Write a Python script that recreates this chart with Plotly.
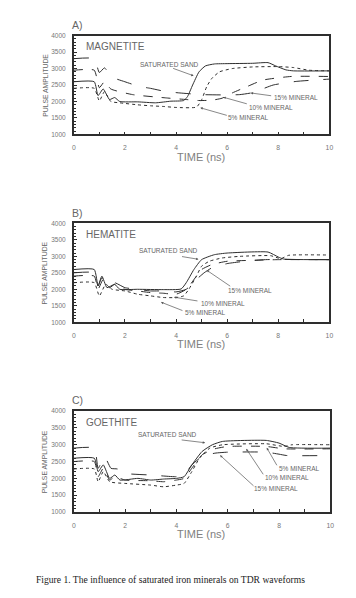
import plotly.graph_objects as go

W, H = 356, 598

# ---------------- DATA ----------------
# Panel A: MAGNETITE
mag_sand_t = [0, 0.8, 0.95, 1.15, 1.4, 1.6, 1.8, 2.5, 3.2, 3.8, 4.3, 4.45, 4.65, 4.9, 5.15, 5.5, 6.0, 7.0, 7.6, 7.9, 8.3, 8.6, 10]
mag_sand_v = [2600, 2600, 2180, 2380, 2060, 2120, 2000, 1990, 1960, 2010, 2030, 2150, 2500, 2900, 3080, 3140, 3150, 3160, 3180, 3080, 2960, 2930, 2930]
mag_5_t = [0, 0.8, 1.0, 1.2, 1.45, 1.8, 2.5, 3.0, 3.5, 4.0, 4.8, 5.0, 5.2, 5.4, 5.7, 6.2, 7.0, 8.0, 8.6, 9.2, 10]
mag_5_v = [2400, 2400, 2020, 2300, 2000, 1960, 1900, 1870, 1850, 1820, 1830, 2050, 2450, 2700, 2900, 3000, 3050, 3060, 3030, 2950, 2930]
mag_10_t = [0, 0.8, 1.0, 1.2, 1.45, 2.3, 3.6, 4.4, 4.9, 5.4, 5.8, 6.2, 6.8, 7.4, 8.5, 10]
mag_10_v = [2950, 2950, 2420, 2600, 2380, 2210, 2110, 2060, 2030, 2040, 2100, 2260, 2460, 2650, 2760, 2760]
mag_15_t = [0, 0.8, 1.0, 1.2, 1.5, 2.0, 2.55, 3.0, 3.55, 4.0, 5.0, 6.0, 6.5, 7.0, 7.8, 8.7, 10]
mag_15_v = [3300, 3300, 2880, 3020, 2740, 2600, 2460, 2400, 2310, 2270, 2210, 2200, 2210, 2270, 2500, 2610, 2680]

# Panel B: HEMATITE
hem_sand_t = [0, 0.8, 0.95, 1.1, 1.3, 1.6, 1.8, 2.5, 3.5, 4.2, 4.4, 4.7, 5.0, 5.5, 6.0, 7.6, 8.0, 8.2, 10]
hem_sand_v = [2600, 2600, 2100, 2400, 2050, 2150, 2000, 2000, 1990, 2010, 2200, 2600, 2900, 3050, 3100, 3130, 2980, 2920, 2900]
hem_5_t = [0, 0.8, 1.0, 1.25, 1.5, 2.0, 2.5, 3.0, 3.5, 4.0, 4.3, 4.5, 4.8, 5.0, 5.3, 5.8, 6.5, 7.7, 8.1, 8.4, 10]
hem_5_v = [2200, 2200, 1800, 2150, 2000, 1950, 1850, 1800, 1750, 1750, 1800, 2000, 2400, 2700, 2850, 2950, 3000, 3020, 2930, 3030, 3040]
hem_10_t = [0, 0.8, 0.95, 1.15, 1.4, 1.6, 2.0, 2.5, 3.0, 3.5, 4.0, 4.4, 4.8, 5.0, 5.4, 6.0, 7.0, 8.0, 10]
hem_10_v = [2400, 2400, 2000, 2300, 2050, 2150, 2000, 1950, 1900, 1880, 1850, 2000, 2400, 2600, 2750, 2850, 2880, 2900, 2900]
hem_15_t = [0, 0.8, 0.95, 1.1, 1.35, 1.6, 2.0, 2.5, 3.0, 3.5, 4.0, 4.4, 4.8, 5.1, 5.4, 6.0, 6.7, 7.5, 10]
hem_15_v = [2500, 2500, 2100, 2350, 2150, 2200, 2050, 2000, 1950, 1950, 1920, 2000, 2300, 2500, 2650, 2780, 2850, 2900, 2900]

# Panel C: GOETHITE
goe_sand_t = [0, 0.8, 0.95, 1.15, 1.4, 1.6, 1.8, 2.5, 3.0, 3.5, 4.0, 4.3, 4.6, 5.0, 5.4, 5.8, 7.5, 8.0, 8.4, 10]
goe_sand_v = [2600, 2600, 2200, 2400, 2000, 2100, 1950, 2000, 1950, 1980, 2000, 2050, 2400, 2800, 3000, 3100, 3130, 3050, 2920, 2900]
goe_5_t = [0, 0.8, 0.95, 1.15, 1.4, 2.0, 3.0, 3.5, 4.0, 4.3, 4.6, 4.9, 5.3, 5.8, 7.5, 8.2, 8.5, 10]
goe_5_v = [2280, 2280, 1900, 2200, 1900, 1850, 1800, 1750, 1800, 1850, 2200, 2600, 2900, 3000, 3030, 2950, 3000, 3000]
goe_10_t = [0, 0.8, 0.95, 1.15, 1.4, 1.6, 2.0, 3.0, 3.5, 4.0, 4.3, 4.6, 5.0, 5.5, 6.0, 7.5, 8.2, 10]
goe_10_v = [2500, 2500, 2050, 2300, 1950, 2050, 1950, 1930, 1900, 1950, 2000, 2300, 2700, 2880, 2950, 2950, 2880, 2880]
goe_15_t = [0, 0.8, 0.95, 1.2, 1.45, 1.7, 2.0, 3.0, 4.0, 4.3, 4.6, 5.0, 5.5, 6.0, 7.5, 8.0, 8.3, 10]
goe_15_v = [2900, 2900, 2300, 2650, 2300, 2280, 2150, 2100, 2050, 2100, 2400, 2650, 2750, 2780, 2780, 2720, 2680, 2680]

y_ticks = [1000, 1500, 2000, 2500, 3000, 3500, 4000]
x_ticks = [0, 2, 4, 6, 8, 10]
panel_letters = ["A)", "B)", "C)"]
panel_names = ["MAGNETITE", "HEMATITE", "GOETHITE"]
series_names = ["SATURATED SAND", "5% MINERAL", "10% MINERAL", "15% MINERAL"]
caption = "Figure 1. The influence of saturated iron minerals on TDR waveforms"

panels = [
    [(mag_sand_t, mag_sand_v), (mag_5_t, mag_5_v), (mag_10_t, mag_10_v), (mag_15_t, mag_15_v)],
    [(hem_sand_t, hem_sand_v), (hem_5_t, hem_5_v), (hem_10_t, hem_10_v), (hem_15_t, hem_15_v)],
    [(goe_sand_t, goe_sand_v), (goe_5_t, goe_5_v), (goe_10_t, goe_10_v), (goe_15_t, goe_15_v)],
]

# ---------------- LAYOUT / STYLE ----------------
dashes = ["solid", "dot", "dash", "longdash"]
LINE = "#2e2e2e"
TXT = "#666666"
FONT = "Liberation Sans, Arial, sans-serif"

def px(x):
    return x / W

def py(y):
    return 1 - y / H

# plot boxes in pixels: (left, right, top, bottom)
boxes = [(73, 333, 32, 132), (73, 333, 222, 322), (73, 334, 412, 514)]

# arrow annotations per panel: (series idx, tip x, tip y, ax, ay, text cx, text cy)
arrows = [
    [(0, 4.69, 2780, -22, -8, 170.7, 61.7),
     (3, 6.92, 2260, 22, 3, 299, 95),
     (2, 5.85, 2130, 25, 7, 274, 105),
     (1, 4.95, 1810, 28, 8, 250, 115)],
    [(0, 4.88, 2910, -18, -3, 169.3, 249),
     (3, 5.20, 2580, 25, 17, 252.3, 290),
     (2, 3.92, 1760, 25, 4, 225, 302.7),
     (1, 3.41, 1610, 23, 9, 206.7, 312.3)],
    [(0, 5.12, 3060, -25, -3, 168.3, 436),
     (1, 7.52, 2910, 11, 19, 301.7, 470),
     (2, 6.72, 2880, 18, 27, 290, 479.3),
     (3, 5.70, 2690, 35, 32, 278.3, 490)],
]

fig = go.Figure()
layout = dict(
    width=W, height=H,
    margin=dict(l=0, r=0, t=0, b=0),
    paper_bgcolor="white", plot_bgcolor="white",
    showlegend=False,
    font=dict(family=FONT, color=TXT),
)
annotations = []

for i, (series, box) in enumerate(zip(panels, boxes)):
    l, r, t, b = box
    xa = "xaxis" if i == 0 else f"xaxis{i+1}"
    ya = "yaxis" if i == 0 else f"yaxis{i+1}"
    xr = "x" if i == 0 else f"x{i+1}"
    yr = "y" if i == 0 else f"y{i+1}"
    for k, (tt, vv) in enumerate(series):
        fig.add_trace(go.Scatter(
            x=tt, y=vv, mode="lines", xaxis=xr, yaxis=yr,
            name=series_names[k],
            line=dict(color=LINE, width=1, dash=dashes[k], shape="spline", smoothing=0.5),
        ))
    layout[xa] = dict(
        domain=[px(l), px(r)], anchor=yr, range=[0, 10],
        tickvals=x_ticks, ticks="inside", ticklen=3, tickwidth=1, tickcolor=LINE,
        minor=dict(dtick=1, ticks="inside", ticklen=3, tickcolor=LINE),
        showgrid=False, zeroline=False,
        showline=True, mirror=True, linecolor=LINE, linewidth=1.5,
        tickfont=dict(size=6.8, color="#777777", family=FONT), ticklabelstandoff=6,
    )
    layout[ya] = dict(
        domain=[py(b), py(t)], anchor=xr, range=[1000, 4000],
        tickvals=y_ticks, ticks="inside", ticklen=3, tickwidth=1, tickcolor=LINE,
        minor=dict(dtick=100, ticks="inside", ticklen=2, tickcolor=LINE),
        showgrid=False, zeroline=False,
        showline=True, mirror=True, linecolor=LINE, linewidth=1.5,
        tickfont=dict(size=6.5, color="#777777", family=FONT), ticklabelstandoff=5,
    )
    # panel letter
    annotations.append(dict(text=panel_letters[i], x=px(l - 4), y=py(t - 11), xref="paper", yref="paper",
                            xanchor="left", yanchor="middle", showarrow=False,
                            font=dict(size=10.5, color=TXT, family=FONT)))
    # mineral name
    annotations.append(dict(text=panel_names[i], x=px(l + 10), y=py(t + 11), xref="paper", yref="paper",
                            xanchor="left", yanchor="middle", showarrow=False,
                            font=dict(size=10, color=TXT, family=FONT)))
    # y-axis title
    annotations.append(dict(text="PULSE AMPLITUDE", x=px(43.5), y=py((t + b) / 2), xref="paper", yref="paper",
                            xanchor="center", yanchor="middle", textangle=-90, showarrow=False,
                            font=dict(size=6.8, color=TXT, family=FONT)))
    # x-axis title
    annotations.append(dict(text="TIME (ns)", x=px((l + r) / 2 - 1), y=py(b + 22.5), xref="paper", yref="paper",
                            xanchor="center", yanchor="middle", showarrow=False,
                            font=dict(size=11, color="#808080", family=FONT)))
    # series labels with arrows
    for (k, tx, ty, ax, ay, cx, cy) in arrows[i]:
        annotations.append(dict(text="", x=tx, y=ty, xref=xr, yref=yr, ax=ax, ay=ay,
                                showarrow=True, arrowhead=2, arrowsize=0.7, arrowwidth=0.7,
                                arrowcolor="#555555", standoff=0))
        annotations.append(dict(text=series_names[k], x=px(cx), y=py(cy), xref="paper", yref="paper",
                                xanchor="center", yanchor="middle", showarrow=False,
                                font=dict(size=6.5, color=TXT, family=FONT)))

annotations.append(dict(text=caption, x=px(33), y=py(582), xref="paper", yref="paper",
                        xanchor="left", yanchor="middle", showarrow=False,
                        font=dict(size=9.6, color="#222222", family="Liberation Serif, Times New Roman, serif")))

layout["annotations"] = annotations
fig.update_layout(**layout)
fig.write_html("out.html", config={"displayModeBar": False},
               post_script="document.body.style.margin='0px';document.body.style.overflow='hidden';")
